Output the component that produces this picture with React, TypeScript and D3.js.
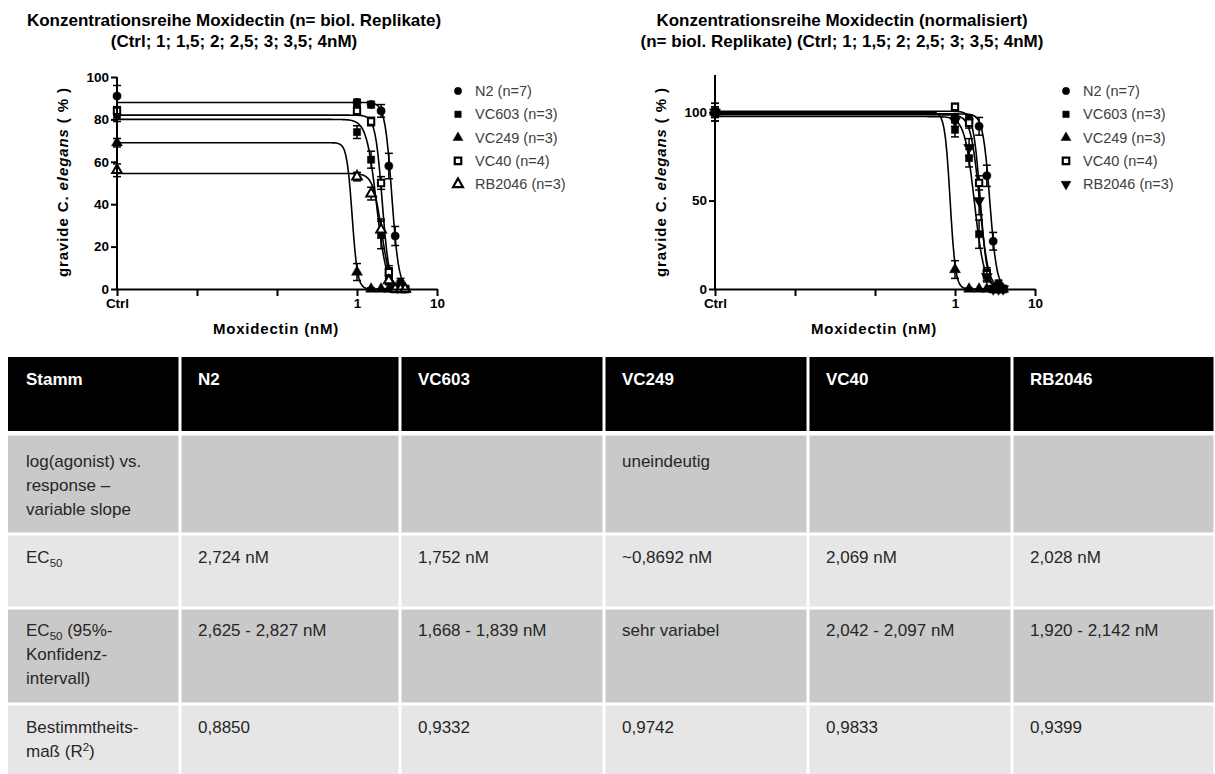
import React from "react";
import * as d3 from "d3";

// Konzentrationen (Ctrl auf 0.001 gelegt, wie in Prism)
const concentrations = [0.001, 1, 1.5, 2, 2.5, 3, 3.5, 4];
const legendLabels = ["N2 (n=7)", "VC603 (n=3)", "VC249 (n=3)", "VC40 (n=4)", "RB2046 (n=3)"];

// Rohwerte (% gravide) + SEM
const n2Raw = [91, 88, 87, 84, 58, 25, 3, 0];
const n2RawSem = [5, 1.5, 1.5, 3, 6, 4.5, 2, 0.5];
const vc603Raw = [82, 74, 61, 26, 7, 0, 0, 0];
const vc603RawSem = [3, 3, 4, 7, 3, 0.5, 0, 0];
const vc249Raw = [69, 8, 0, 0, 0, 0, 0, 0];
const vc249RawSem = [2, 4, 0.5, 0, 0, 0, 0, 0];
const vc40Raw = [84, 84, 79, 50, 8, 0, 0, 0];
const vc40RawSem = [2, 2, 2, 3, 3, 0.5, 0, 0];
const rb2046Raw = [56, 53, 45, 28, 4, 0, 0, 0];
const rb2046RawSem = [3, 2, 3, 4, 2, 0.5, 0, 0];

// normalisiert (% von Ctrl) + SEM
const n2Norm = [100, 97, 96, 92, 64, 27, 3, 0];
const n2NormSem = [5, 2, 2, 5, 6, 5, 2, 0.5];
const vc603Norm = [100, 90, 74, 31, 8, 0, 0, 0];
const vc603NormSem = [3, 4, 5, 8, 3, 0.5, 0, 0];
const vc249Norm = [100, 11, 0, 0, 0, 0, 0, 0];
const vc249NormSem = [3, 5, 0.5, 0, 0, 0, 0, 0];
const vc40Norm = [100, 103, 94, 60, 9, 0, 0, 0];
const vc40NormSem = [2, 2, 3, 4, 3, 0.5, 0, 0];
const rb2046Norm = [100, 95, 80, 50, 7, 0, 0, 0];
const rb2046NormSem = [5, 3, 5, 8, 3, 0.5, 0, 0];

// Fitparameter log(agonist) vs. response
const ec50 = [2.724, 1.752, 0.8692, 2.069, 2.028];
const hillSlope = [10, 7, 13, 10, 8];
const rawTop = [88, 80, 69, 82, 54.5];
const normTop = [99, 97.5, 100, 100.5, 98.5];

// Tabelle
const tableHeader = ["Stamm", "N2", "VC603", "VC249", "VC40", "RB2046"];
const rowModel = ["", "", "uneindeutig", "", ""];
const rowEc50 = ["2,724 nM", "1,752 nM", "~0,8692 nM", "2,069 nM", "2,028 nM"];
const rowCi = ["2,625 - 2,827 nM", "1,668 - 1,839 nM", "sehr variabel", "2,042 - 2,097 nM", "1,920 - 2,142 nM"];
const rowR2 = ["0,8850", "0,9332", "0,9742", "0,9833", "0,9399"];

const rawMeans = [n2Raw, vc603Raw, vc249Raw, vc40Raw, rb2046Raw];
const rawSems = [n2RawSem, vc603RawSem, vc249RawSem, vc40RawSem, rb2046RawSem];
const normMeans = [n2Norm, vc603Norm, vc249Norm, vc40Norm, rb2046Norm];
const normSems = [n2NormSem, vc603NormSem, vc249NormSem, vc40NormSem, rb2046NormSem];

type Marker = { type: d3.SymbolType; open: boolean; rot: number };

const drawPanel = (
  svg: d3.Selection<SVGSVGElement, unknown, null, undefined>,
  x0: number,
  yMax: number,
  yTicks: number[],
  yTop: number,
  means: number[][],
  sems: number[][],
  tops: number[],
  markers: Marker[],
  titleLines: string[],
  titleX: number,
  legendX: number
) => {
  const x = d3.scaleLog().domain([0.001, 10]).range([x0, x0 + 320]);
  const y = d3.scaleLinear().domain([0, yMax]).range([289, yTop]);
  const g = svg.append("g");

  g.selectAll("text.title")
    .data(titleLines)
    .join("text")
    .attr("x", titleX)
    .attr("y", (d, i) => 26 + i * 21)
    .attr("text-anchor", "middle")
    .style("font", "bold 17px 'Liberation Sans', Arial, sans-serif")
    .text((d) => d);

  // Kurven
  const xs = d3.range(0, 201).map((i) => Math.pow(10, -3 + (i / 200) * (Math.log10(4.2) + 3)));
  const line = d3
    .line<[number, number]>()
    .x((d) => x(d[0]))
    .y((d) => y(d[1]));
  tops.forEach((top, s) => {
    const pts: [number, number][] = xs.map((c) => [c, top / (1 + Math.pow(c / ec50[s], hillSlope[s]))]);
    g.append("path").attr("d", line(pts)).attr("fill", "none").attr("stroke", "#000").attr("stroke-width", 1.6);
  });

  // Fehlerbalken + Marker
  means.forEach((m, s) => {
    m.forEach((v, i) => {
      const cx = x(concentrations[i]);
      const e = sems[s][i];
      if (e > 0) {
        const y1 = y(v + e);
        const y2 = y(Math.max(0, v - e));
        g.append("line").attr("x1", cx).attr("x2", cx).attr("y1", y1).attr("y2", y2).attr("stroke", "#000").attr("stroke-width", 1.5);
        [y1, y2].forEach((yy) =>
          g.append("line").attr("x1", cx - 4).attr("x2", cx + 4).attr("y1", yy).attr("y2", yy).attr("stroke", "#000").attr("stroke-width", 1.5)
        );
      }
      const mk = markers[s];
      g.append("path")
        .attr("d", d3.symbol(mk.type, mk.open ? 40 : 52)())
        .attr("transform", `translate(${cx},${y(v)}) rotate(${mk.rot})`)
        .attr("fill", mk.open ? "#fff" : "#000")
        .attr("stroke", "#000")
        .attr("stroke-width", mk.open ? 2 : 0.5);
    });
  });

  // Achsen
  const yAxis = g
    .append("g")
    .attr("transform", `translate(${x0},0)`)
    .call(d3.axisLeft(y).tickValues(yTicks).tickSize(6).tickSizeOuter(0).tickPadding(2));
  const xAxis = g
    .append("g")
    .attr("transform", `translate(0,289)`)
    .call(
      d3
        .axisBottom(x)
        .tickValues([0.001, 0.01, 0.1, 1, 10])
        .tickFormat((d) => (+d === 0.001 ? "Ctrl" : +d === 1 ? "1" : +d === 10 ? "10" : ""))
        .tickSize(7)
        .tickSizeOuter(0)
        .tickPadding(2)
    );
  [yAxis, xAxis].forEach((a) => {
    a.select(".domain").attr("stroke-width", 2);
    a.selectAll(".tick line").attr("stroke-width", 2);
    a.selectAll(".tick text").style("font", "bold 13.5px 'Liberation Sans', Arial, sans-serif").attr("fill", "#000");
  });
  yAxis.select(".domain").attr("d", `M0,${y(0)}V${yTop}`);

  // Achsentitel
  const yl = g
    .append("text")
    .attr("transform", `translate(${x0 - 49},182) rotate(-90)`)
    .attr("text-anchor", "middle")
    .style("font", "bold 15px 'Liberation Sans', Arial, sans-serif")
    .style("letter-spacing", "0.9px");
  yl.append("tspan").text("gravide C. ");
  yl.append("tspan").style("font-style", "italic").text("elegans");
  yl.append("tspan").text("  ( % )");

  g.append("text")
    .attr("x", x0 + 159)
    .attr("y", 334)
    .attr("text-anchor", "middle")
    .style("font", "bold 15px 'Liberation Sans', Arial, sans-serif")
    .style("letter-spacing", "0.8px")
    .text("Moxidectin (nM)");

  // Legende
  legendLabels.forEach((lab, i) => {
    const ly = 91 + i * 23.3;
    const mk = markers[i];
    g.append("path")
      .attr("d", d3.symbol(mk.type, 42)())
      .attr("transform", `translate(${legendX},${ly}) rotate(${mk.rot})`)
      .attr("fill", mk.open ? "#fff" : "#000")
      .attr("stroke", "#000")
      .attr("stroke-width", mk.open ? 2.2 : 0.5);
    g.append("text")
      .attr("x", legendX + 17)
      .attr("y", ly + 5)
      .style("font", "14.5px 'Liberation Sans', Arial, sans-serif")
      .attr("fill", "#404040")
      .text(lab);
  });
};

const drawTable = (svg: d3.Selection<SVGSVGElement, unknown, null, undefined>) => {
  const colX = [8, 180, 400, 604, 808, 1012, 1215];
  const rowY = [357, 434, 534, 608, 704, 778];
  const fills = ["#000", "#c9c9c9", "#e6e6e6", "#c9c9c9", "#e6e6e6"];
  const g = svg.append("g");
  for (let r = 0; r < 5; r++) {
    for (let c = 0; c < 6; c++) {
      g.append("rect")
        .attr("x", colX[c] + (c > 0 ? 1.5 : 0))
        .attr("y", rowY[r] + (r > 0 ? 1.5 : 0))
        .attr("width", colX[c + 1] - colX[c] - (c > 0 ? 3 : 1.5))
        .attr("height", rowY[r + 1] - rowY[r] - 3)
        .attr("fill", fills[r]);
    }
  }
  const font = "17px 'Liberation Sans', Arial, sans-serif";
  const tx = (c: number) => colX[c] + 18;
  tableHeader.forEach((h, c) =>
    g.append("text").attr("x", tx(c)).attr("y", 385).attr("fill", "#fff").style("font", "bold " + font).text(h)
  );
  const lines = (c: number, y0: number, arr: string[]) =>
    arr.forEach((t, i) => g.append("text").attr("x", tx(c)).attr("y", y0 + i * 24).attr("fill", "#262626").style("font", font).text(t));

  lines(0, 467, ["log(agonist) vs.", "response –", "variable slope"]);
  rowModel.forEach((t, c) => lines(c + 1, 467, [t]));

  const ec = g.append("text").attr("x", tx(0)).attr("y", 563).attr("fill", "#262626").style("font", font);
  ec.append("tspan").text("EC");
  ec.append("tspan").attr("dy", 4).style("font-size", "11.5px").text("50");
  rowEc50.forEach((t, c) => lines(c + 1, 563, [t]));

  const ci = g.append("text").attr("x", tx(0)).attr("y", 636).attr("fill", "#262626").style("font", font);
  ci.append("tspan").text("EC");
  ci.append("tspan").attr("dy", 4).style("font-size", "11.5px").text("50");
  ci.append("tspan").attr("dy", -4).text(" (95%-");
  lines(0, 660, ["Konfidenz-", "intervall)"]);
  rowCi.forEach((t, c) => lines(c + 1, 636, [t]));

  lines(0, 733, ["Bestimmtheits-"]);
  const r2 = g.append("text").attr("x", tx(0)).attr("y", 757).attr("fill", "#262626").style("font", font);
  r2.append("tspan").text("maß (R");
  r2.append("tspan").attr("dy", -6).style("font-size", "11.5px").text("2");
  r2.append("tspan").attr("dy", 6).text(")");
  rowR2.forEach((t, c) => lines(c + 1, 733, [t]));
};

export default function App() {
  const svgRef = React.useRef<SVGSVGElement>(null);

  React.useEffect(() => {
    const svg = d3.select(svgRef.current!);
    svg.selectAll("*").remove();

    const leftMarkers: Marker[] = [
      { type: d3.symbolCircle, open: false, rot: 0 },
      { type: d3.symbolSquare, open: false, rot: 0 },
      { type: d3.symbolTriangle, open: false, rot: 0 },
      { type: d3.symbolSquare, open: true, rot: 0 },
      { type: d3.symbolTriangle, open: true, rot: 0 },
    ];
    const rightMarkers: Marker[] = [
      ...leftMarkers.slice(0, 4),
      { type: d3.symbolTriangle, open: false, rot: 180 },
    ];

    drawPanel(
      svg, 117, 100, [0, 20, 40, 60, 80, 100], 77, rawMeans, rawSems, rawTop, leftMarkers,
      ["Konzentrationsreihe Moxidectin (n= biol. Replikate)", "(Ctrl; 1; 1,5; 2; 2,5; 3; 3,5; 4nM)"],
      234, 458
    );
    drawPanel(
      svg, 715, 121, [0, 50, 100], 75, normMeans, normSems, normTop, rightMarkers,
      ["Konzentrationsreihe Moxidectin (normalisiert)", "(n= biol. Replikate) (Ctrl; 1; 1,5; 2; 2,5; 3; 3,5; 4nM)"],
      842, 1066
    );
    drawTable(svg);

    return () => {
      svg.selectAll("*").remove();
    };
  }, []);

  return (
    <svg
      ref={svgRef}
      width={1215}
      height={774}
      style={{ position: "absolute", left: 0, top: 0, background: "#fff" }}
    />
  );
}
